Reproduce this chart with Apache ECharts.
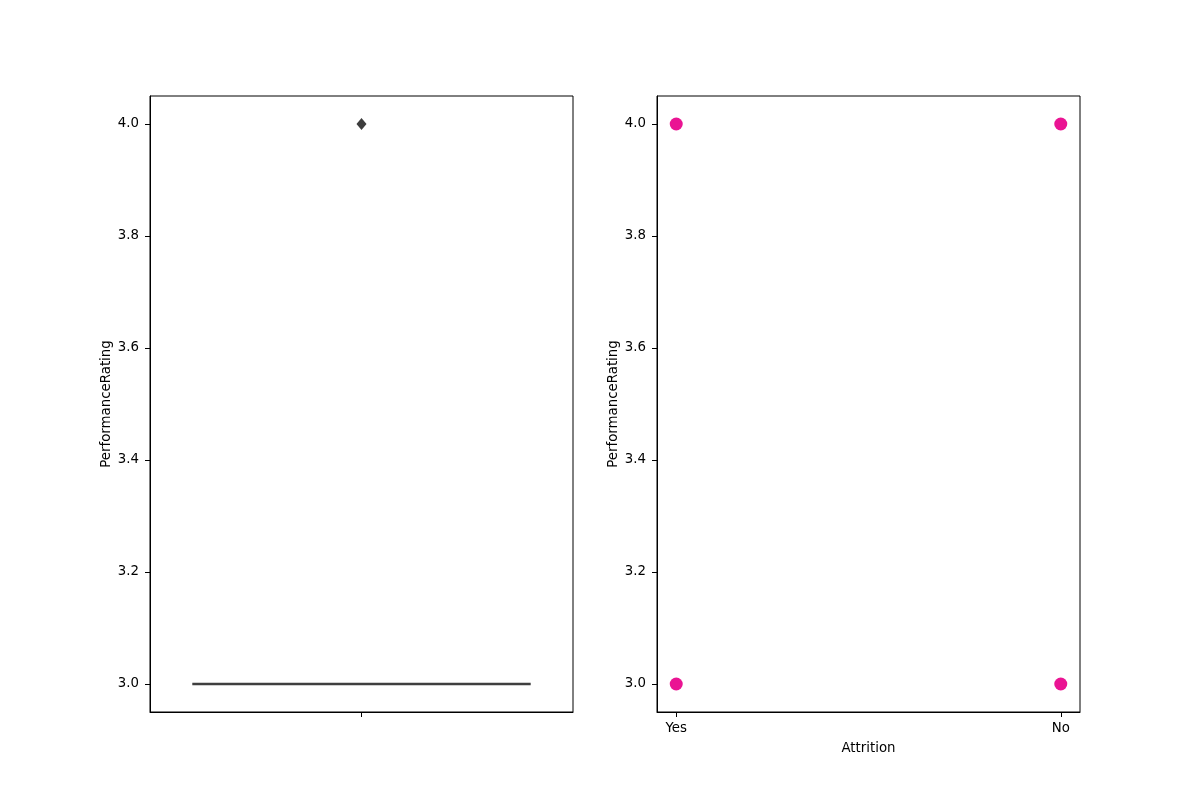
<!DOCTYPE html>
<html>
<head>
<meta charset="utf-8">
<script src="https://cdn.jsdelivr.net/npm/echarts@6/dist/echarts.min.js"></script>
<style>html,body{margin:0;padding:0;background:#fff}#c{width:1200px;height:800px}</style>
</head>
<body>
<div id="c"></div>
<script>
// Left: box plot of PerformanceRating (all values 3, outliers 4)
const boxCategories = ['PerformanceRating'];
const boxStats = [[3.0, 3.0, 3.0, 3.0, 3.0]]; // min, Q1, median, Q3, max
const boxOutliers = [[0, 4.0]];
// Right: point plot by Attrition
const attritionCategories = ['Yes', 'No'];
const pointValues = [[0, 3.0], [0, 4.0], [1, 3.0], [1, 4.0]];
const yTicks = [3.0, 3.2, 3.4, 3.6, 3.8, 4.0];

const font = 'DejaVu Sans';
const yAxisCommon = {
  type: 'value', min: 2.95, max: 4.05,
  name: 'PerformanceRating', nameLocation: 'middle', nameGap: 37,
  nameTextStyle: {color: '#000', fontFamily: font, fontSize: 13.33},
  axisLine: {show: true, onZero: false, lineStyle: {color: '#000', width: 1}},
  axisTick: {show: true, length: 5, inside: false, customValues: yTicks, lineStyle: {color: '#000', width: 1}},
  axisLabel: {customValues: yTicks, color: '#000', fontFamily: font, fontSize: 13.33, margin: 11,
    padding: [3, 0, 0, 0], formatter: v => v.toFixed(1)},
  splitLine: {show: false}
};

const chart = echarts.init(document.getElementById('c'));
chart.setOption({
  animation: false,
  backgroundColor: '#fff',
  grid: [
    {left: 150, top: 96, width: 423, height: 616, show: true, borderColor: '#000', borderWidth: 1, backgroundColor: 'transparent'},
    {left: 657, top: 96, width: 423, height: 616, show: true, borderColor: '#000', borderWidth: 1, backgroundColor: 'transparent'}
  ],
  xAxis: [
    {gridIndex: 0, type: 'category', data: boxCategories,
      axisLine: {onZero: false, lineStyle: {color: '#000'}},
      axisTick: {show: true, alignWithLabel: true, interval: 0, length: 5, lineStyle: {color: '#000'}},
      axisLabel: {show: true, interval: 0, formatter: () => '', color: '#000'}},
    {gridIndex: 1, type: 'value', min: -0.05, max: 1.05,
      name: 'Attrition', nameLocation: 'middle', nameGap: 30,
      nameTextStyle: {color: '#000', fontFamily: font, fontSize: 13.33},
      axisLine: {onZero: false, lineStyle: {color: '#000'}},
      axisTick: {show: true, length: 5, customValues: [0, 1], lineStyle: {color: '#000'}},
      axisLabel: {customValues: [0, 1], color: '#000', fontFamily: font, fontSize: 13.33, margin: 10,
        formatter: v => attritionCategories[Math.round(v)]},
      splitLine: {show: false}}
  ],
  yAxis: [
    Object.assign({gridIndex: 0}, yAxisCommon),
    Object.assign({gridIndex: 1}, yAxisCommon)
  ],
  series: [
    {type: 'boxplot', xAxisIndex: 0, yAxisIndex: 0, data: boxStats,
      boxWidth: ['80%', '80%'],
      itemStyle: {color: '#3f3f3f', borderColor: '#3f3f3f', borderWidth: 2.5}},
    {type: 'scatter', xAxisIndex: 0, yAxisIndex: 0, data: boxOutliers,
      symbol: 'diamond', symbolSize: [10, 12],
      itemStyle: {color: '#3d3d3d', opacity: 1}},
    {type: 'scatter', xAxisIndex: 1, yAxisIndex: 1, data: pointValues,
      symbol: 'circle', symbolSize: 13,
      itemStyle: {color: '#ea1493', opacity: 1}}
  ]
});
</script>
</body>
</html>
